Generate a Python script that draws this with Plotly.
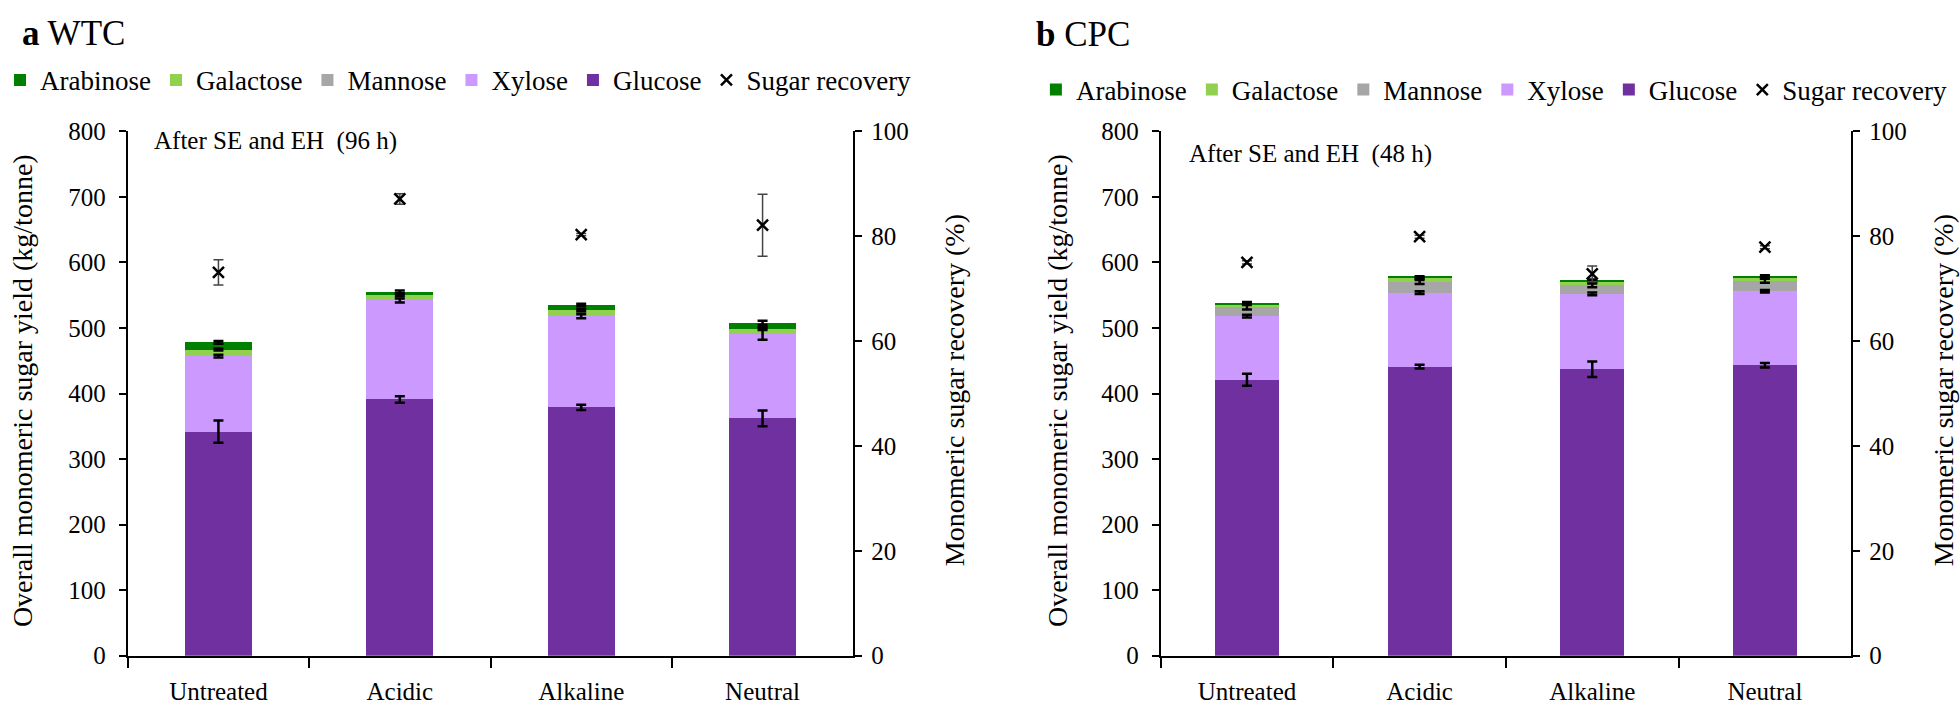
import plotly.graph_objects as go
from plotly.subplots import make_subplots

categories = ["Untreated", "Acidic", "Alkaline", "Neutral"]

# Panel a: WTC (kg/tonne)
wtc_glucose = [342, 391, 379, 362]
wtc_xylose = [115, 151, 139, 129]
wtc_mannose = [0, 0, 0, 0]
wtc_galactose = [10, 8, 9, 8]
wtc_arabinose = [11, 5, 8, 9]
wtc_glucose_err = [17, 5, 4, 12]
wtc_xylose_err = [2, 3, 3, 9]
wtc_mannose_err = [0, 0, 0, 0]
wtc_galactose_err = [1.5, 1.5, 2, 2]
wtc_arabinose_err = [2, 2, 2, 3]
wtc_recovery = [73.1, 87.1, 80.3, 82.1]
wtc_recovery_err = [2.4, 1.0, 0.2, 5.9]

# Panel b: CPC (kg/tonne)
cpc_glucose = [421, 441, 437, 443]
cpc_xylose = [97, 113, 115, 113]
cpc_mannose = [14, 16, 13, 16]
cpc_galactose = [4, 6, 5, 5]
cpc_arabinose = [2, 2, 3, 2]
cpc_glucose_err = [9, 3, 12, 3.5]
cpc_xylose_err = [2, 2, 2, 2]
cpc_mannose_err = [4, 3, 3, 3]
cpc_galactose_err = [1, 1, 1, 1]
cpc_arabinose_err = [1.5, 1, 1, 1.5]
cpc_recovery = [75.0, 79.9, 72.8, 77.9]
cpc_recovery_err = [0.3, 0.3, 1.5, 0.3]

colors = {
    "Glucose": "#7030A0",
    "Xylose": "#CC99FF",
    "Mannose": "#A6A6A6",
    "Galactose": "#92D050",
    "Arabinose": "#008000",
}
ranks = {"Arabinose": 1, "Galactose": 2, "Mannose": 3, "Xylose": 4, "Glucose": 5}

FONT = "Liberation Serif"
W, H = 1960, 712

fig = make_subplots(rows=1, cols=2, specs=[[{"secondary_y": True}, {"secondary_y": True}]])

panels = [
    (1, "legend", [("Glucose", wtc_glucose, wtc_glucose_err), ("Xylose", wtc_xylose, wtc_xylose_err),
                   ("Mannose", wtc_mannose, wtc_mannose_err), ("Galactose", wtc_galactose, wtc_galactose_err),
                   ("Arabinose", wtc_arabinose, wtc_arabinose_err)], wtc_recovery, wtc_recovery_err),
    (2, "legend2", [("Glucose", cpc_glucose, cpc_glucose_err), ("Xylose", cpc_xylose, cpc_xylose_err),
                    ("Mannose", cpc_mannose, cpc_mannose_err), ("Galactose", cpc_galactose, cpc_galactose_err),
                    ("Arabinose", cpc_arabinose, cpc_arabinose_err)], cpc_recovery, cpc_recovery_err),
]

for col, leg, series, rec, rec_err in panels:
    # stacked bars
    for name, vals, errs in series:
        fig.add_trace(go.Bar(
            x=categories, y=vals, name=name, marker_color=colors[name], marker_line_width=0,
            legend=leg, legendrank=ranks[name], hoverinfo="x+y+name",
        ), row=1, col=col, secondary_y=False)
    # error bars at the top of every stacked segment (drawn above the bars)
    cum = [0] * len(categories)
    for name, vals, errs in series:
        cum = [c + v for c, v in zip(cum, vals)]
        if any(e > 0 for e in errs):
            fig.add_trace(go.Scatter(
                x=categories, y=cum, mode="markers", marker=dict(size=1, opacity=0),
                error_y=dict(type="data", array=errs, color="black", thickness=2.5, width=5),
                showlegend=False, hoverinfo="skip",
            ), row=1, col=col, secondary_y=False)
    fig.add_trace(go.Scatter(
        x=categories, y=rec, mode="markers", name="Sugar recovery",
        marker=dict(symbol="x-thin", size=11, color="black", line=dict(width=2.5, color="black")),
        error_y=dict(type="data", array=rec_err, color="#444444", thickness=1.5, width=5),
        legend=leg, legendrank=6,
    ), row=1, col=col, secondary_y=True)

ydom = [1 - 668 / H, 1 - 123 / H]
axis_common = dict(showline=True, linecolor="black", linewidth=2, ticks="outside", tickcolor="black",
                   tickwidth=2, showgrid=False, zeroline=False,
                   tickfont=dict(family=FONT, size=25, color="black"))

fig.update_layout(
    xaxis=dict(domain=[124 / W, 851 / W], tickson="boundaries", ticklen=10, ticklabelstandoff=12, **axis_common),
    xaxis2=dict(domain=[1159 / W, 1851 / W], tickson="boundaries", ticklen=10, ticklabelstandoff=12, **axis_common),
    yaxis=dict(domain=ydom, range=[0, 800], dtick=100, ticklen=7, ticklabelstandoff=8, **axis_common),
    yaxis2=dict(domain=ydom, range=[0, 100], dtick=20, ticklen=7, ticklabelstandoff=4, **axis_common),
    yaxis3=dict(domain=ydom, range=[0, 800], dtick=100, ticklen=7, ticklabelstandoff=8, **axis_common),
    yaxis4=dict(domain=ydom, range=[0, 100], dtick=20, ticklen=7, ticklabelstandoff=4, **axis_common),
)

leg_common = dict(orientation="h", xref="paper", yref="paper", yanchor="middle", xanchor="left",
                  traceorder="normal", bgcolor="rgba(0,0,0,0)",
                  font=dict(family=FONT, size=27, color="black"))
fig.update_layout(
    legend=dict(x=-4 / W, y=1 - 70 / H, **leg_common),
    legend2=dict(x=1034 / W, y=1 - 80 / H, **leg_common),
)

annots = [
    dict(text="<b>a</b> WTC", x=16 / W, y=1 - 21 / H, xanchor="left", yanchor="middle", font=dict(size=35)),
    dict(text="<b>b</b> CPC", x=1032 / W, y=1 - 22 / H, xanchor="left", yanchor="middle", font=dict(size=35)),
    dict(text="After SE and EH  (96 h)", x=148 / W, y=1 - 133 / H, xanchor="left", yanchor="middle", font=dict(size=25)),
    dict(text="After SE and EH  (48 h)", x=1185 / W, y=1 - 147 / H, xanchor="left", yanchor="middle", font=dict(size=25)),
    dict(text="Overall monomeric sugar yield (kg/tonne)", x=18 / W, y=1 - 392 / H, textangle=-90,
         xanchor="center", yanchor="middle", font=dict(size=28)),
    dict(text="Monomeric sugar recovery (%)", x=952 / W, y=1 - 392 / H, textangle=-90,
         xanchor="center", yanchor="middle", font=dict(size=28)),
    dict(text="Overall monomeric sugar yield (kg/tonne)", x=1055 / W, y=1 - 392 / H, textangle=-90,
         xanchor="center", yanchor="middle", font=dict(size=28)),
    dict(text="Monomeric sugar recovery (%)", x=1943 / W, y=1 - 392 / H, textangle=-90,
         xanchor="center", yanchor="middle", font=dict(size=28)),
]
for a in annots:
    a.update(xref="paper", yref="paper", showarrow=False)
    a["font"] = dict(family=FONT, color="black", **a["font"])

fig.update_layout(
    annotations=annots,
    barmode="stack", bargap=0.63,
    width=W, height=H, autosize=False,
    margin=dict(l=0, r=0, t=0, b=0),
    paper_bgcolor="white", plot_bgcolor="white",
    font=dict(family=FONT, color="black"),
)

fig.write_html("out.html", config={"displayModeBar": False},
               post_script="document.body.style.margin='0';")
